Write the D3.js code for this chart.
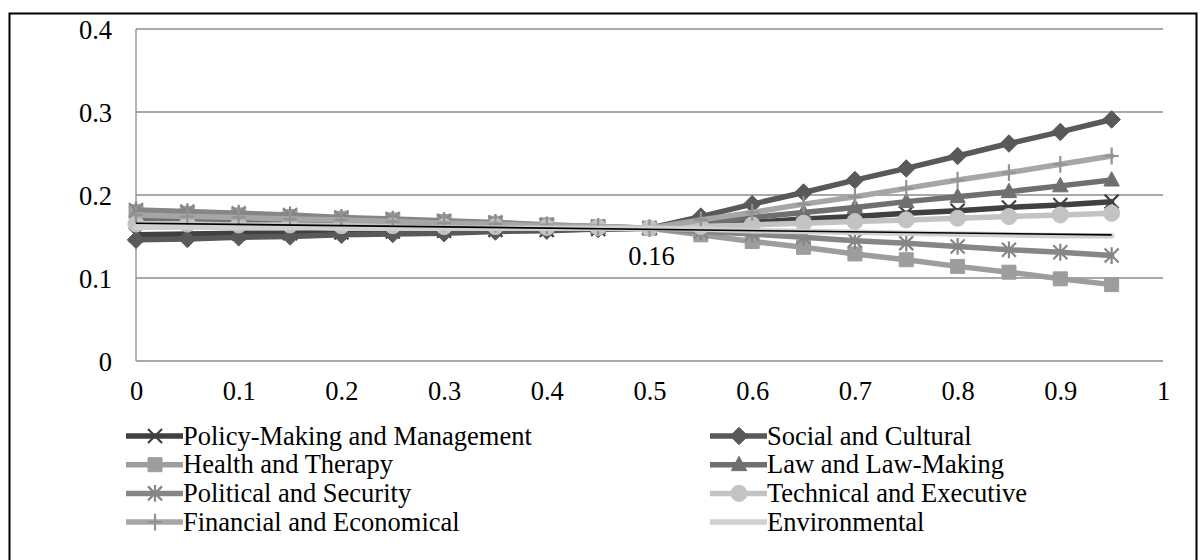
<!DOCTYPE html>
<html>
<head>
<meta charset="utf-8">
<script src="https://cdn.jsdelivr.net/npm/d3@7"></script>
<style>
  body { margin: 0; background: #fff; }
</style>
</head>
<body>
<svg class="chart" width="1200" height="560"></svg>
<script>
var svg = d3.select(".chart"),
    width = +svg.attr("width"),
    height = +svg.attr("height");

// x positions of the points
var xs = [0, 0.05, 0.1, 0.15, 0.2, 0.25, 0.3, 0.35, 0.4, 0.45,
          0.5, 0.55, 0.6, 0.65, 0.7, 0.75, 0.8, 0.85, 0.9, 0.95];

var policyMaking = [0.152, 0.153, 0.154, 0.154, 0.155, 0.156, 0.157, 0.158, 0.158, 0.159,
                    0.160, 0.164, 0.167, 0.171, 0.174, 0.178, 0.181, 0.185, 0.188, 0.192];
var socialCultural = [0.146, 0.147, 0.149, 0.150, 0.152, 0.153, 0.154, 0.156, 0.157, 0.159,
                      0.160, 0.174, 0.189, 0.203, 0.218, 0.232, 0.247, 0.262, 0.276, 0.291];
var healthTherapy = [0.180, 0.178, 0.176, 0.174, 0.172, 0.170, 0.168, 0.166, 0.164, 0.162,
                     0.160, 0.152, 0.144, 0.137, 0.129, 0.122, 0.114, 0.107, 0.099, 0.092];
var lawMaking = [0.172, 0.171, 0.170, 0.169, 0.168, 0.166, 0.165, 0.164, 0.163, 0.161,
                 0.160, 0.166, 0.173, 0.179, 0.185, 0.192, 0.198, 0.204, 0.211, 0.218];
var politicalSecurity = [0.182, 0.180, 0.178, 0.176, 0.173, 0.171, 0.169, 0.167, 0.164, 0.162,
                         0.160, 0.156, 0.153, 0.149, 0.145, 0.142, 0.138, 0.134, 0.131, 0.127];
var technicalExecutive = [0.165, 0.165, 0.164, 0.164, 0.163, 0.163, 0.162, 0.162, 0.161, 0.161,
                          0.160, 0.162, 0.164, 0.166, 0.168, 0.170, 0.172, 0.174, 0.176, 0.178];
var financialEconomical = [0.176, 0.174, 0.173, 0.171, 0.170, 0.168, 0.166, 0.165, 0.163, 0.162,
                           0.160, 0.170, 0.179, 0.189, 0.198, 0.208, 0.218, 0.227, 0.237, 0.247];
var environmental = [0.161, 0.161, 0.161, 0.161, 0.160, 0.160, 0.160, 0.160, 0.160, 0.160,
                     0.160, 0.159, 0.157, 0.156, 0.155, 0.154, 0.153, 0.152, 0.151, 0.151];

// thin black trend line (not in legend)
var trendX = [0, 0.95];
var trendY = [0.166, 0.152];

var xTicks = [0, 0.1, 0.2, 0.3, 0.4, 0.5, 0.6, 0.7, 0.8, 0.9, 1];
var yTicks = [0, 0.1, 0.2, 0.3, 0.4];

var seriesNames = ["Policy-Making and Management", "Social and Cultural", "Health and Therapy",
  "Law and Law-Making", "Political and Security", "Technical and Executive",
  "Financial and Economical", "Environmental"];
var seriesValues = [policyMaking, socialCultural, healthTherapy, lawMaking,
  politicalSecurity, technicalExecutive, financialEconomical, environmental];
var seriesColors = ["#404040", "#595959", "#9d9d9d", "#6f6f6f", "#868686", "#c3c3c3", "#a6a6a6", "#d0d0d0"];
var seriesMarkers = ["x", "diamond", "square", "triangle", "asterisk", "circle", "plus", "none"];

var series = seriesNames.map(function(name, i) {
  return {
    name: name, color: seriesColors[i], marker: seriesMarkers[i],
    points: xs.map(function(x, j) { return {x: x, y: seriesValues[i][j]}; })
  };
});

var margin = {left: 136, right: 1163, top: 29, bottom: 361};
var x = d3.scaleLinear().domain([0, 1]).range([margin.left, margin.right]);
var y = d3.scaleLinear().domain([0, 0.4]).range([margin.bottom, margin.top]);

var FS = 26.5;
var FONT = "Liberation Serif";

// outer chart border
svg.append("rect")
  .attr("x", 9.5).attr("y", 13.5)
  .attr("width", 1187).attr("height", 600)
  .attr("fill", "none").attr("stroke", "#000").attr("stroke-width", 2);

// gridlines
var grid = svg.append("g");
grid.selectAll("line.h")
  .data(yTicks)
  .enter().append("line")
  .attr("x1", margin.left).attr("x2", margin.right)
  .attr("y1", function(d) { return y(d); })
  .attr("y2", function(d) { return y(d); })
  .attr("stroke", "#8c8c8c").attr("stroke-width", 1.3);
grid.append("line")
  .attr("x1", margin.left).attr("x2", margin.left)
  .attr("y1", y(0.4)).attr("y2", y(0))
  .attr("stroke", "#8c8c8c").attr("stroke-width", 1.3);

// axis labels via d3 axes (tick lines hidden)
var yAxis = svg.append("g")
  .attr("transform", "translate(" + (margin.left - 24) + ",0)")
  .call(d3.axisLeft(y).tickValues(yTicks).tickFormat(d3.format("")).tickSize(0))
  .attr("font-family", FONT)
  .attr("font-size", FS);
yAxis.select(".domain").remove();
yAxis.selectAll("text")
  .attr("x", 0).attr("dy", "0.35em")
  .attr("fill", "#000")
  .style("font-size", FS + "px")
  .style("font-family", FONT);

var xAxis = svg.append("g")
  .attr("transform", "translate(0," + margin.bottom + ")")
  .call(d3.axisBottom(x).tickValues(xTicks).tickFormat(d3.format("")).tickSize(0))
  .attr("font-family", FONT)
  .attr("font-size", FS);
xAxis.select(".domain").remove();
xAxis.selectAll(".tick text")
  .attr("y", 0).attr("dy", "1.47em")
  .attr("fill", "#000")
  .style("font-size", FS + "px")
  .style("font-family", FONT);

// markers
function markerPath(type, s) {
  var p = d3.path();
  if (type === "diamond") {
    p.moveTo(0, -s * 1.25); p.lineTo(s * 1.25, 0); p.lineTo(0, s * 1.25); p.lineTo(-s * 1.25, 0); p.closePath();
  } else if (type === "square") {
    p.rect(-s, -s, 2 * s, 2 * s);
  } else if (type === "triangle") {
    p.moveTo(0, -s * 1.2); p.lineTo(s * 1.1, s * 0.85); p.lineTo(-s * 1.1, s * 0.85); p.closePath();
  } else if (type === "circle") {
    p.arc(0, 0, s * 1.15, 0, 2 * Math.PI);
  } else if (type === "x") {
    p.moveTo(-s, -s); p.lineTo(s, s); p.moveTo(s, -s); p.lineTo(-s, s);
  } else if (type === "asterisk") {
    p.moveTo(-s, -s); p.lineTo(s, s); p.moveTo(s, -s); p.lineTo(-s, s);
    p.moveTo(0, -s * 1.2); p.lineTo(0, s * 1.2);
  } else if (type === "plus") {
    p.moveTo(0, -s * 1.2); p.lineTo(0, s * 1.2); p.moveTo(-s, 0); p.lineTo(s, 0);
  }
  return p.toString();
}
var strokedMarkers = {x: true, asterisk: true, plus: true};

function drawMarker(g, type, color, cx, cy) {
  if (type === "none") return;
  var stroked = strokedMarkers[type];
  g.append("path")
    .attr("transform", "translate(" + cx + "," + cy + ")")
    .attr("d", markerPath(type, 7))
    .attr("fill", stroked ? "none" : color)
    .attr("stroke", color)
    .attr("stroke-width", stroked ? 2.2 : 1);
}

var line = d3.line()
  .x(function(d) { return x(d.x); })
  .y(function(d) { return y(d.y); });

var plot = svg.append("g");
series.forEach(function(s) {
  var g = plot.append("g");
  g.append("path")
    .datum(s.points)
    .attr("d", line)
    .attr("fill", "none")
    .attr("stroke", s.color)
    .attr("stroke-width", 5.5)
    .attr("stroke-linejoin", "round")
    .attr("stroke-linecap", "round");
  s.points.forEach(function(d) {
    drawMarker(g, s.marker, s.marker === "plus" ? "#939393" : s.color, x(d.x), y(d.y));
  });
});

// trend line
plot.append("path")
  .datum(trendX.map(function(v, i) { return {x: v, y: trendY[i]}; }))
  .attr("d", line)
  .attr("fill", "none")
  .attr("stroke", "#000")
  .attr("stroke-width", 1.6);

// data label at the crossing point
svg.append("text")
  .attr("x", x(0.5) + 2).attr("y", y(0.16) + 37)
  .attr("text-anchor", "middle")
  .style("font-family", FONT)
  .style("font-size", FS + "px")
  .text("0.16");

// legend, two columns
var legend = svg.append("g");
var colX = [126, 710];
var rowY0 = 436, rowStep = 28.7;
series.forEach(function(s, i) {
  var cx = colX[i % 2], cy = rowY0 + Math.floor(i / 2) * rowStep;
  legend.append("line")
    .attr("x1", cx).attr("x2", cx + 57)
    .attr("y1", cy).attr("y2", cy)
    .attr("stroke", s.color).attr("stroke-width", 5.5);
  drawMarker(legend, s.marker, s.marker === "plus" ? "#939393" : s.color, cx + 29, cy);
  legend.append("text")
    .attr("x", cx + 57).attr("y", cy + 8.5)
    .style("font-family", FONT)
    .style("font-size", FS + "px")
    .text(s.name);
});
</script>
</body>
</html>
